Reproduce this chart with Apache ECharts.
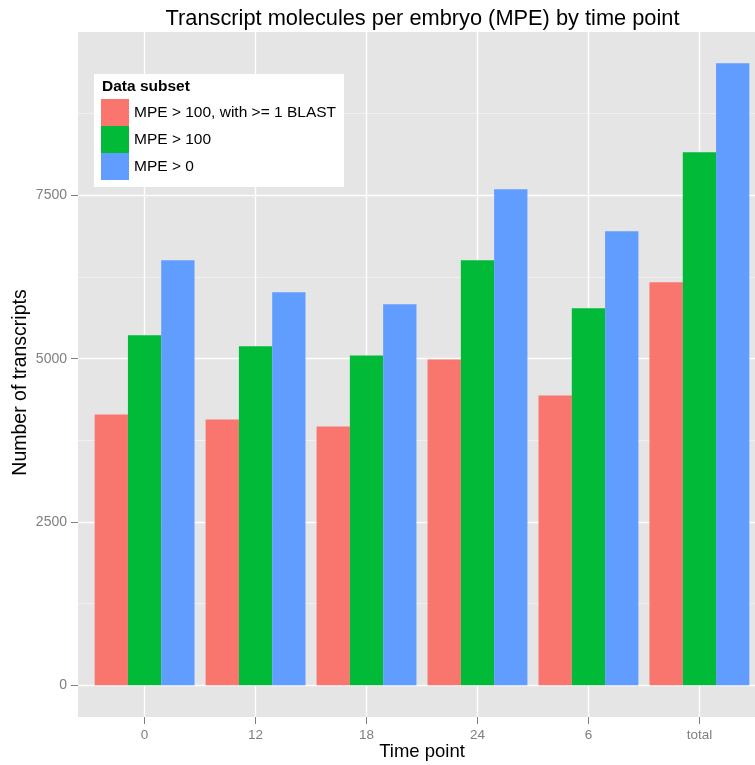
<!DOCTYPE html>
<html>
<head>
<meta charset="utf-8">
<script src="https://cdn.jsdelivr.net/npm/echarts@6/dist/echarts.min.js"></script>
<style>
  html, body { margin: 0; padding: 0; background: #ffffff; }
  #chart { width: 755px; height: 765px; }
</style>
</head>
<body>
<div id="chart"></div>
<script>
// ---- data ----
const categories = ['0', '12', '18', '24', '6', 'total'];
const seriesNames = ['MPE > 100, with >= 1 BLAST', 'MPE > 100', 'MPE > 0'];
const blastValues = [4147, 4070, 3963, 4989, 4437, 6169];
const mpe100Values = [5357, 5188, 5050, 6506, 5770, 8160];
const mpe0Values = [6506, 6015, 5832, 7593, 6950, 9523];
const yMajorTicks = [0, 2500, 5000, 7500];
const yMinorTicks = [1250, 3750, 6250, 8750];
const titleText = 'Transcript molecules per embryo (MPE) by time point';
const legendTitle = 'Data subset';
const xTitle = 'Time point';
const yTitle = 'Number of transcripts';

// ---- styles ----
const FONT = '"Liberation Sans", Arial, Helvetica, sans-serif';
const colors = ['#F8766D', '#00BA38', '#619CFF'];
const xPositions = categories.map((c, i) => i + 1);

const chart = echarts.init(document.getElementById('chart'), null, { renderer: 'canvas' });

const gridLines = [];
yMajorTicks.forEach(v => gridLines.push({ yAxis: v, lineStyle: { color: '#ffffff', width: 1.4, type: 'solid' } }));
yMinorTicks.forEach(v => gridLines.push({ yAxis: v, lineStyle: { color: '#F2F2F2', width: 0.8, type: 'solid' } }));
xPositions.forEach(v => gridLines.push({ xAxis: v, lineStyle: { color: '#ffffff', width: 1.4, type: 'solid' } }));

const valueLists = [blastValues, mpe100Values, mpe0Values];
const series = valueLists.map((vals, si) => {
  const s = {
    type: 'bar',
    name: seriesNames[si],
    data: vals.map((v, i) => [xPositions[i], v]),
    itemStyle: { color: colors[si] },
    barCategoryGap: '10%',
    barGap: '0%',
    z: 2,
    animation: false,
    emphasis: { disabled: true },
    silent: true
  };
  // the middle (centred) series carries the panel grid lines, drawn beneath the bars
  if (si === 1) {
    s.markLine = {
      silent: true,
      z: 1,
      symbol: ['none', 'none'],
      label: { show: false },
      animation: false,
      emphasis: { disabled: true },
      data: gridLines
    };
  }
  return s;
});

const option = {
  backgroundColor: '#ffffff',
  animation: false,
  textStyle: { fontFamily: FONT },
  grid: {
    left: 78, top: 32, width: 688, height: 685,
    show: true, backgroundColor: '#E5E5E5', borderWidth: 0,
    containLabel: false,
    outerBoundsMode: 'none'
  },
  legend: {
    left: 94, top: 74,
    orient: 'vertical',
    itemWidth: 28, itemHeight: 27, itemGap: 0,
    padding: [25, 8, 7, 7],
    backgroundColor: '#ffffff',
    icon: 'rect',
    selectedMode: false,
    data: seriesNames,
    textStyle: { fontSize: 15.5, fontFamily: FONT, color: '#000000' }
  },
  xAxis: {
    type: 'value',
    min: 0.4, max: 6.6,
    position: 'bottom',
    z: 10,
    name: xTitle,
    nameLocation: 'middle',
    nameGap: 25,
    nameMoveOverlap: false,
    nameTextStyle: { fontSize: 18.5, fontFamily: FONT, color: '#000000' },
    axisLine: { show: true, onZero: false, lineStyle: { color: 'rgba(0,0,0,0)', width: 0 } },
    axisTick: { show: true, inside: false, customValues: xPositions, length: 7, lineStyle: { color: '#7F7F7F', width: 1 } },
    axisLabel: {
      customValues: xPositions,
      margin: 11,
      fontSize: 13.5, fontFamily: FONT, color: '#7F7F7F',
      formatter: v => categories[Math.round(v) - 1]
    },
    splitLine: { show: false },
    minorSplitLine: { show: false }
  },
  yAxis: {
    type: 'value',
    min: -485, max: 10000,
    position: 'left',
    z: 10,
    name: yTitle,
    nameLocation: 'middle',
    nameGap: 47,
    nameMoveOverlap: false,
    nameTextStyle: { fontSize: 19.5, fontFamily: FONT, color: '#000000', padding: [0, 16, 0, 0] },
    axisLine: { show: true, onZero: false, lineStyle: { color: 'rgba(0,0,0,0)', width: 0 } },
    axisTick: { show: true, inside: false, customValues: yMajorTicks, length: 7, lineStyle: { color: '#7F7F7F', width: 1 } },
    axisLabel: {
      customValues: yMajorTicks,
      margin: 11,
      fontSize: 14, fontFamily: FONT, color: '#7F7F7F',
      formatter: v => String(v)
    },
    splitLine: { show: false },
    minorSplitLine: { show: false }
  },
  graphic: [
    {
      type: 'text', x: 422.5, y: 19, z: 100, silent: true,
      style: { text: titleText, fontSize: 21.8, fontFamily: FONT, fill: '#000000', align: 'center', verticalAlign: 'middle' }
    },
    {
      type: 'text', x: 102, y: 87, z: 100, silent: true,
      style: { text: legendTitle, fontSize: 15.5, fontWeight: 'bold', fontFamily: FONT, fill: '#000000', align: 'left', verticalAlign: 'middle' }
    }
  ],
  series: series
};

chart.setOption(option);
</script>
</body>
</html>
